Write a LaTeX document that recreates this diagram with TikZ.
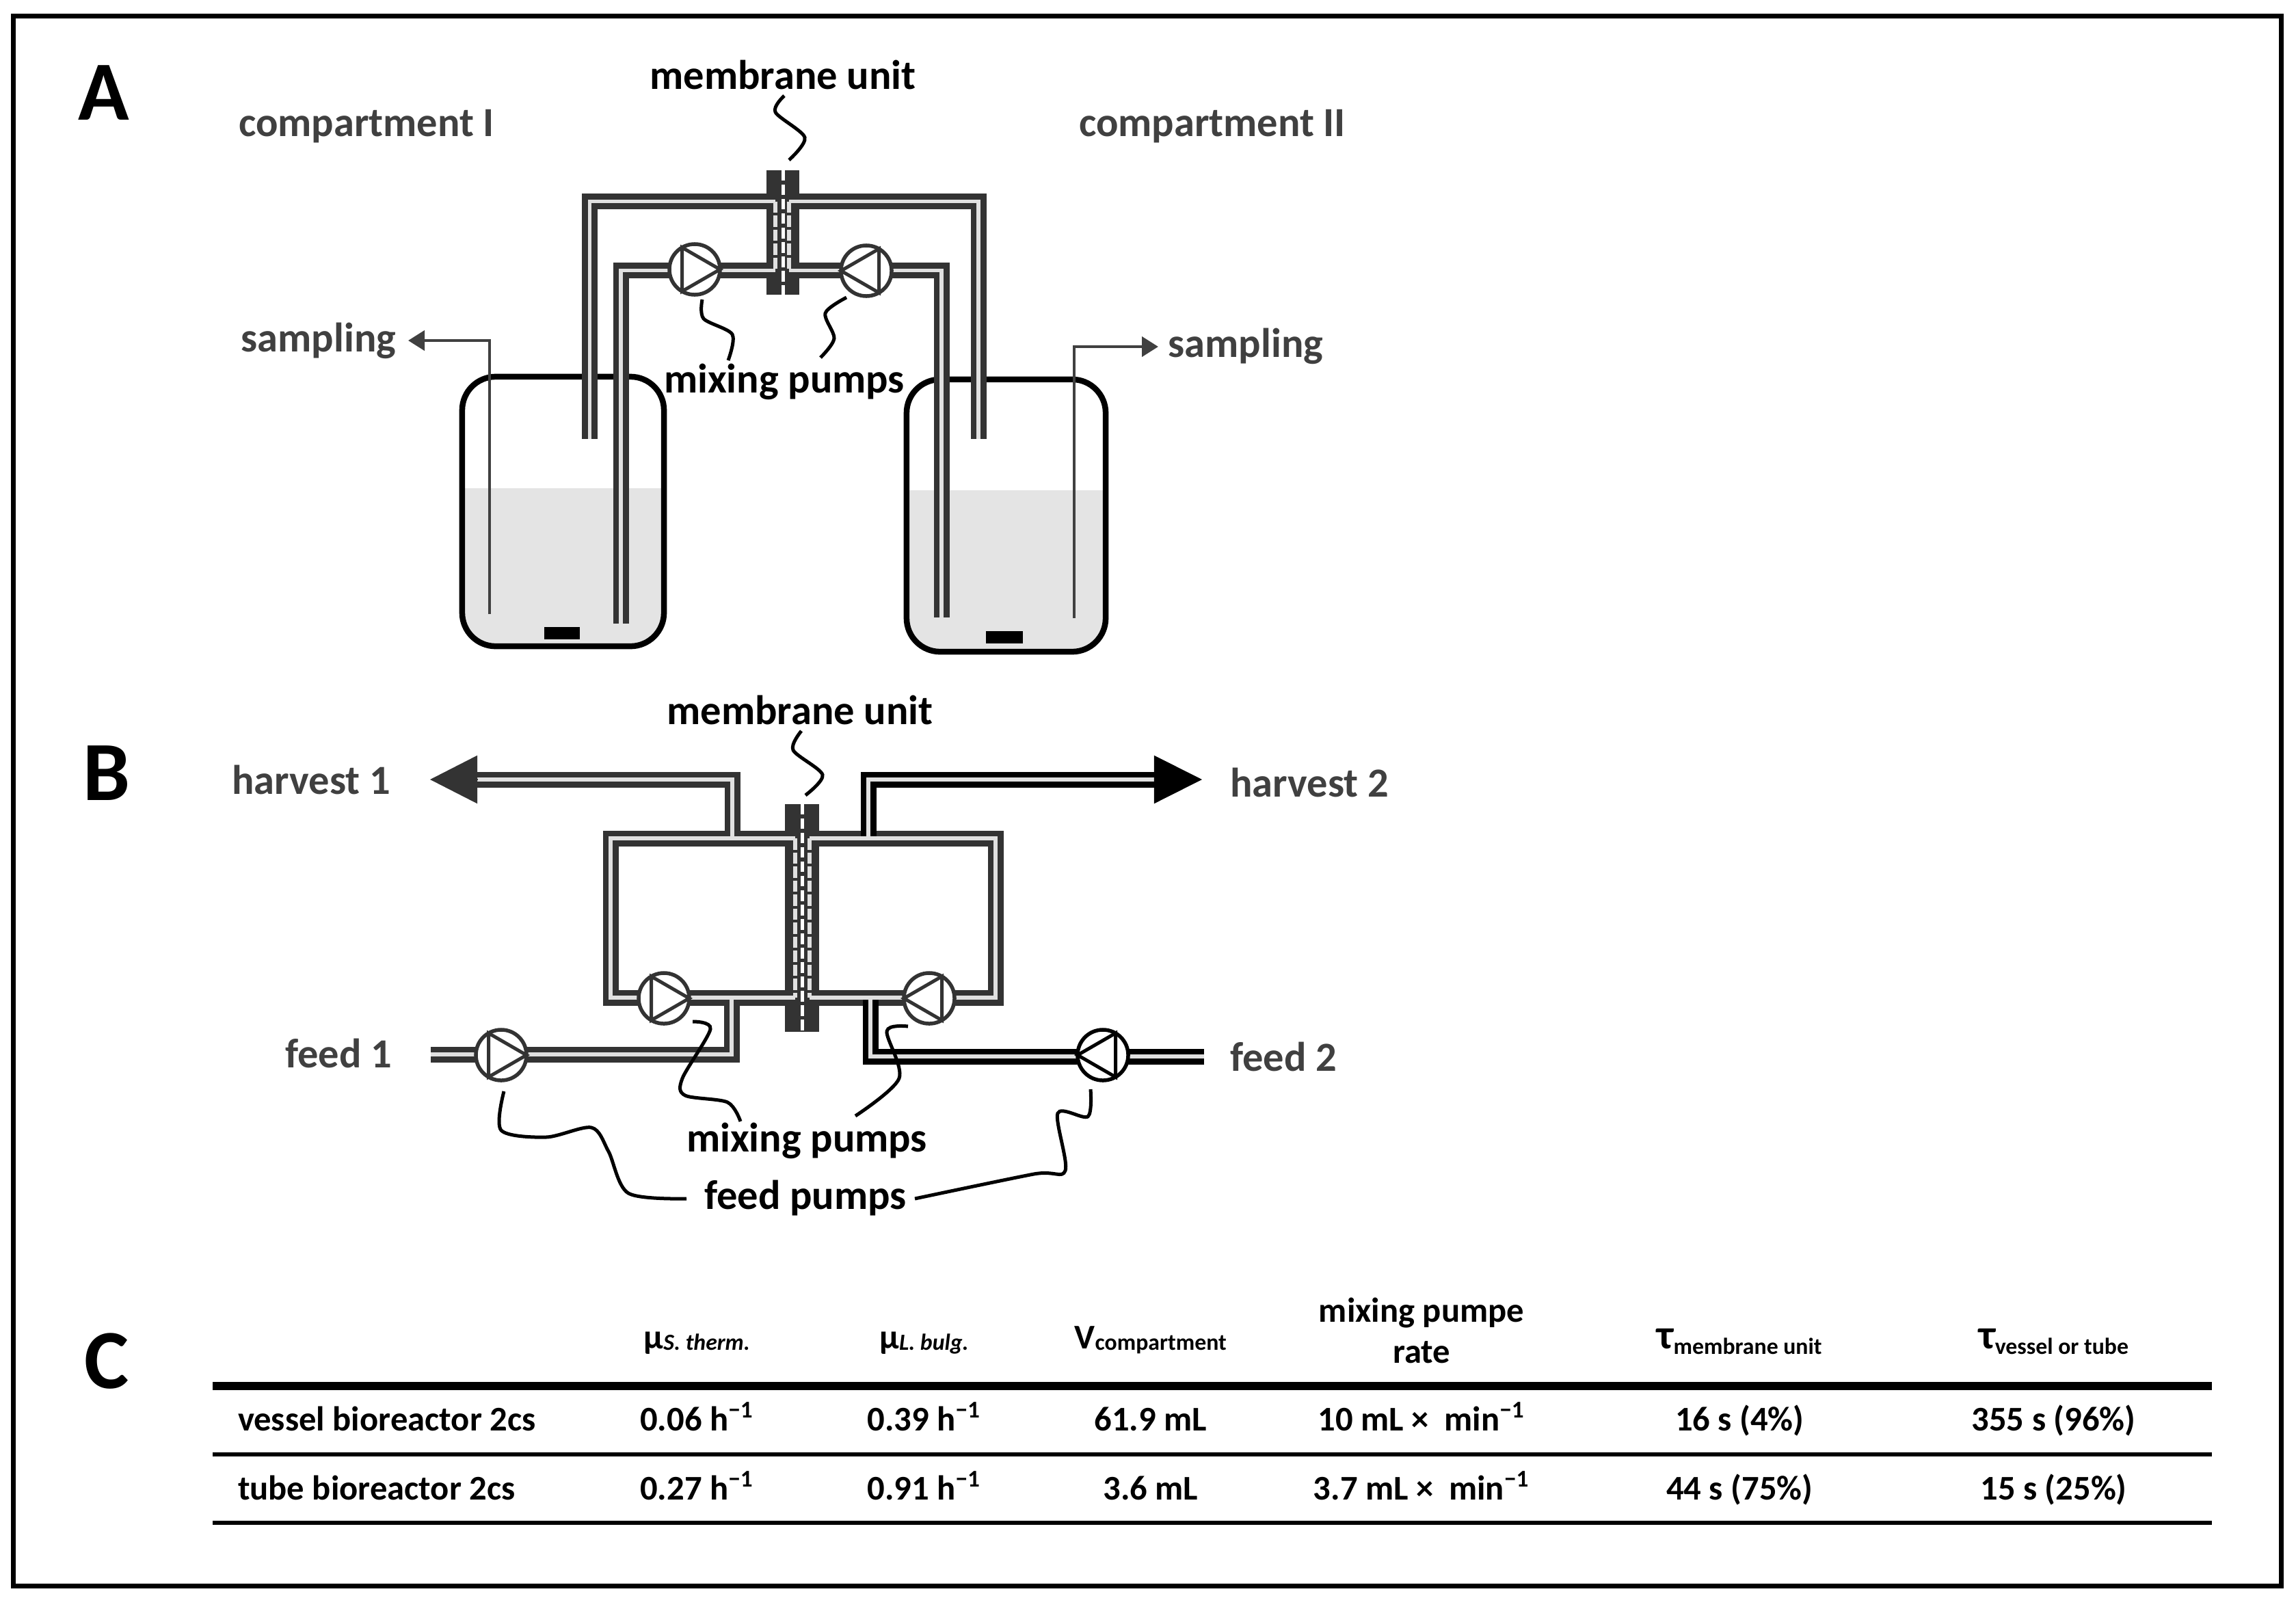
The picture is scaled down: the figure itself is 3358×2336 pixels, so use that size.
\documentclass[tikz,border=0pt]{standalone}
\usepackage{fontspec}
\setmainfont{Carlito}
\usetikzlibrary{matrix, arrows.meta}

\definecolor{tubegray}{HTML}{333333}
\definecolor{tubelight}{HTML}{E0E0E0}
\definecolor{liquid}{HTML}{E4E4E4}
\definecolor{labgray}{HTML}{404040}

\newcommand{\sublow}[2][-.02cm]{\raisebox{#1}{\fontsize{9.6}{12}\selectfont #2}}
\newcommand{\bigtau}{{\fontsize{17.2}{16}\selectfont τ}}
\newcommand{\perh}{h\textsuperscript{\textminus1}}
\newcommand{\permin}{min\textsuperscript{\textminus1}}

\tikzset{
  lab/.style={font=\fontsize{17.2}{16.2}\selectfont\bfseries, anchor=base, inner sep=0pt, outer sep=0pt},
  grlab/.style={lab, text=labgray},
  cell/.style={lab, font=\fontsize{14.4}{16.2}\selectfont\bfseries},
  panel/.style={font=\fontsize{35}{40}\selectfont\bfseries, anchor=base, inner sep=0pt},
  tubeo/.style={draw=tubegray, line width=.23cm},
  tubek/.style={draw=black, line width=.23cm},
  tubei/.style={draw=tubelight, line width=.055cm},
  tube/.style={tubeo, postaction={tubei}},
  sidestripe/.style={draw=tubelight, line width=.065cm, dash pattern=on .165cm off .04cm},
  membr/.style={fill=tubegray, inner sep=0pt, outer sep=0pt},
  midline/.style={draw=white, line width=.05cm, dash pattern=on .155cm off .055cm},
  vessel/.style={draw=black, line width=.085cm, rectangle, rounded corners=.49cm, inner sep=0pt, minimum width=2.95cm},
  pump/.style={draw=tubegray, fill=white, circle, line width=.055cm, inner sep=0pt, outer sep=0pt, minimum size=.74cm},
  squig/.style={draw=black, line width=.05cm},
  samp/.style={draw=labgray, line width=.045cm, -{Triangle[length=.24cm,width=.29cm]}},
  rule/.style={draw=black, line width=#1}
}

\begin{document}
\begin{tikzpicture}[x=.01cm, y=-.01cm]
\useasboundingbox (0,0) rectangle (3358,2336);
\draw[black, line width=.07cm] (19.5,23.5) rectangle (3336.5,2319.5);

% panel A
\node[panel] (pa) at (152,175) {A};
\node[grlab] (compL) at (536,199) {compartment I};
\node[grlab] (compR) at (1773,199) {compartment II};
\node[lab] (memLabA) at (1145,130) {membrane unit};
\node[lab] (mixLabA) at (1147,574) {mixing pumps};
\node[grlab] (sampL) at (466,514) {sampling};
\node[grlab] (sampR) at (1822,522) {sampling};

\fill[liquid, rounded corners=.49cm] (676,714) [sharp corners] -- (676,800) [rounded corners=.49cm] -- (676,945) -- (971,945) -- (971,800) [sharp corners] -- (971,714) -- cycle;
\fill[liquid, rounded corners=.49cm] (1326,717) [sharp corners] -- (1326,800) [rounded corners=.49cm] -- (1326,951) -- (1617,951) -- (1617,800) [sharp corners] -- (1617,717) -- cycle;
\node[vessel, minimum height=3.94cm] (vesL) at (823.5,748) {};
\node[vessel, minimum width=2.91cm, minimum height=3.98cm] (vesR) at (1471.5,754) {};
\fill[black] (796,917) rectangle (848,935);
\fill[black] (1442,923) rectangle (1496,941);

\coordinate (sL0) at (716,898); \coordinate (sL1) at (716,498); \coordinate (sL2) at (597,498);
\coordinate (sR0) at (1571,904); \coordinate (sR1) at (1571,507); \coordinate (sR2) at (1694,507);
\draw[samp] (sL0) -- (sL1) -- (sL2);
\draw[samp] (sR0) -- (sR1) -- (sR2);

\node[membr, minimum width=.48cm, minimum height=1.82cm] (memA) at (1145,340) {};
\coordinate (uL0) at (1134,294.5); \coordinate (uL1) at (862.5,294.5); \coordinate (uL2) at (862.5,642);
\coordinate (uR0) at (1154,294.5); \coordinate (uR1) at (1431,294.5); \coordinate (uR2) at (1431,642);
\coordinate (lL0) at (1134,395.5); \coordinate (lL1) at (908,395.5); \coordinate (lL2) at (908,912);
\coordinate (lR0) at (1154,395.5); \coordinate (lR1) at (1377,395.5); \coordinate (lR2) at (1377,903);
\draw[tube] (uL0) -- (uL1) -- (uL2);
\draw[tube] (uR0) -- (uR1) -- (uR2);
\draw[tube] (lL0) -- (lL1) -- (lL2);
\draw[tube] (lR0) -- (lR1) -- (lR2);
\fill[tubegray] (memA.north west) rectangle (memA.south east);
\draw[tubei] (uL0) -- ++(-20,0);
\draw[tubei] (uR0) -- ++(20,0);
\draw[tubei] (lL0) -- ++(-20,0);
\draw[tubei] (lR0) -- ++(20,0);
\draw[sidestripe] (uL0) -- (lL0);
\draw[sidestripe] (uR0) -- (lR0);
\draw[midline] (memA.north) -- (memA.south);

\node[pump] (pAl) at (1016,394) {};
\node[pump] (pAr) at (1267,396) {};

\coordinate (a1) at (1147,140); \coordinate (a2) at (1154,234);
\coordinate (b1) at (1027,438); \coordinate (b2) at (1065,527);
\coordinate (c1) at (1238,435); \coordinate (c2) at (1200,523);
\draw[squig] plot[smooth] coordinates {(a1) (1134,164) (1177,201) (a2)};
\draw[squig] plot[smooth] coordinates {(b1) (1029,466) (1071,489) (b2)};
\draw[squig] plot[smooth] coordinates {(c1) (1207,458) (1220,495) (c2)};

% panel B
\node[panel] (pb) at (156,1170) {B};
\node[lab] (memLabB) at (1170,1059) {membrane unit};
\node[lab] (mixLabB) at (1180,1684) {mixing pumps};
\node[lab] (feedLab) at (1178,1768) {feed pumps};
\node[grlab] (harL) at (455,1161) {harvest 1};
\node[grlab] (harR) at (1915,1165) {harvest 2};
\node[grlab] (feedL) at (495,1561) {feed 1};
\node[grlab] (feedR) at (1877,1566) {feed 2};

\node[membr, minimum width=.50cm, minimum height=3.33cm] (memB) at (1173,1342.5) {};
\coordinate (tL0) at (1163,1226); \coordinate (tL1) at (893,1226); \coordinate (tL2) at (893,1459); \coordinate (tL3) at (1163,1459);
\coordinate (tR0) at (1184,1226); \coordinate (tR1) at (1456,1226); \coordinate (tR2) at (1456,1459); \coordinate (tR3) at (1184,1459);
\coordinate (hL0) at (1071,1226); \coordinate (hL1) at (1071,1140); \coordinate (hL2) at (698,1140); \coordinate (hLtip) at (629,1140);
\coordinate (hR0) at (1270,1226); \coordinate (hR1) at (1270,1140); \coordinate (hR2) at (1688,1140); \coordinate (hRtip) at (1758,1140);
\coordinate (fL0) at (630,1542); \coordinate (fL1) at (1070,1542); \coordinate (fL2) at (1070,1459);
\coordinate (fR0) at (1761,1545); \coordinate (fR1) at (1273,1545); \coordinate (fR2) at (1273,1459);

\foreach \lay/\kay in {tubeo/tubek, tubei/tubei} {
  \draw[\lay] (tL0) -- (tL1) -- (tL2) -- (tL3);
  \draw[\lay] (tR0) -- (tR1) -- (tR2) -- (tR3);
  \draw[\lay] (hL0) -- (hL1) -- (hL2);
  \draw[\lay] (fL0) -- (fL1) -- (fL2);
  \draw[\kay] (hR0) -- (hR1) -- (hR2);
  \draw[\kay] (fR0) -- (fR1) -- (fR2);
}
\draw[sidestripe] (tL0) -- (tL3);
\draw[sidestripe] (tR0) -- (tR3);
\draw[midline] (memB.north) -- (memB.south);
\draw[tubegray, line width=.02cm, -{Triangle[length=.69cm,width=.70cm]}] (hL2) -- (hLtip);
\draw[black, line width=.02cm, -{Triangle[length=.70cm,width=.70cm]}] (hR2) -- (hRtip);

\node[pump] (pBl) at (971,1460) {};
\node[pump] (pBr) at (1359,1460) {};
\node[pump] (pBf) at (733,1543) {};
\node[pump, draw=black] (pBg) at (1613,1543) {};

\foreach \p/\u/\v/\w/\c in {pAl/0/120/240/tubegray, pAr/180/60/300/tubegray, pBl/0/120/240/tubegray, pBr/180/60/300/tubegray, pBf/0/120/240/tubegray, pBg/180/60/300/black}
  \draw[\c, line width=.05cm] (\p.\u) -- (\p.\v) -- (\p.\w) -- cycle;

\coordinate (d1) at (1172,1069); \coordinate (d2) at (1178,1163);
\coordinate (e1) at (1013,1494); \coordinate (e2) at (1083,1640);
\coordinate (f1) at (1328,1501); \coordinate (f2) at (1251,1632);
\coordinate (g1) at (737,1596); \coordinate (g2) at (1004,1753);
\coordinate (h1) at (1595,1593); \coordinate (h2) at (1338,1753);
\draw[squig] plot[smooth] coordinates {(d1) (1160,1097) (1203,1133) (d2)};
\draw[squig] plot[smooth] coordinates {(e1) (1039,1505) (998,1577) (1002,1602) (1064,1612) (e2)};
\draw[squig] plot[smooth] coordinates {(f1) (1297,1508) (1315,1577) (f2)};
\draw[squig] plot[smooth] coordinates {(g1) (733,1653) (799,1663) (865,1649) (890,1684) (919,1745) (g2)};
\draw[squig] plot[smooth] coordinates {(h1) (1591,1633) (1547,1628) (1558,1712) (1512,1717) (h2)};

% panel C
\node[panel] (pc) at (156,2030) {C};
\matrix (tab) [matrix of nodes, nodes={cell}, column 1/.style={nodes={anchor=base west}}, matrix anchor=tab-2-1.base west, anchor=base west] at (348,2092) {
  &[6.71cm,between origins] μ\sublow{\itshape S. therm.} &[3.32cm,between origins] μ\sublow{\itshape L. bulg.} &[3.31cm,between origins] V\sublow{compartment} &[3.96cm,between origins] \raisebox{-.21cm}{\begin{tabular}[b]{@{}c@{}}mixing pumpe\\[1pt]rate\end{tabular}} &[4.65cm,between origins] \bigtau\sublow[-.08cm]{membrane unit} &[4.59cm,between origins] \bigtau\sublow[-.08cm]{vessel or tube} \\[1.19cm,between origins]
  vessel bioreactor 2cs & 0.06 \perh & 0.39 \perh & 61.9 mL & 10 mL × \ \permin & 16 s (4\%) & 355 s (96\%) \\[1.01cm,between origins]
  tube bioreactor 2cs & 0.27 \perh & 0.91 \perh & 3.6 mL & 3.7 mL × \ \permin & 44 s (75\%) & 15 s (25\%) \\
};
\coordinate (r0) at (311,2027); \coordinate (r1) at (3235,2027);
\coordinate (m0) at (311,2127); \coordinate (m1) at (3235,2127);
\coordinate (n0) at (311,2227); \coordinate (n1) at (3235,2227);
\draw[rule=.12cm] (r0) -- (r1);
\draw[rule=.055cm] (m0) -- (m1);
\draw[rule=.055cm] (n0) -- (n1);
\end{tikzpicture}
\end{document}
